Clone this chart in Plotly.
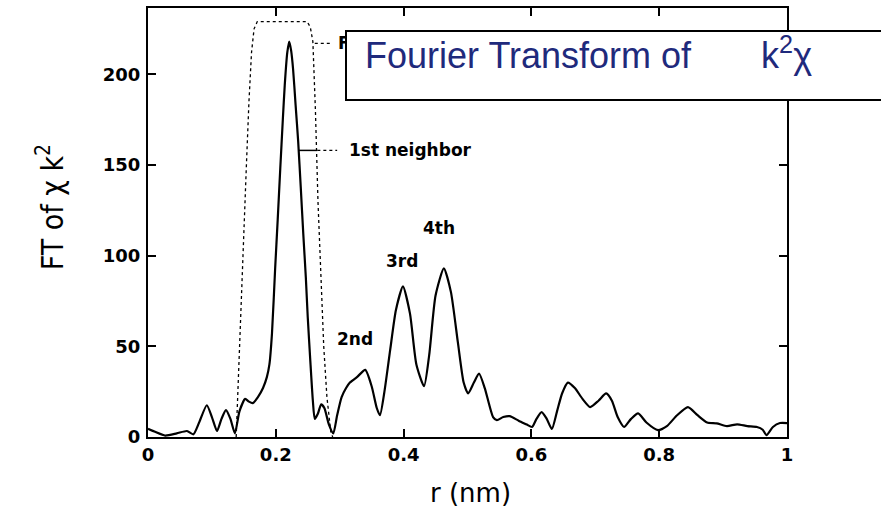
import plotly.graph_objects as go

# ---- data ----
r_nm = [0.000, 0.010, 0.027, 0.045, 0.061, 0.071, 0.080, 0.092, 0.100, 0.108,
        0.115, 0.122, 0.129, 0.136, 0.143, 0.152, 0.158, 0.164, 0.172, 0.180,
        0.186, 0.190, 0.194, 0.199, 0.203, 0.207, 0.211, 0.214, 0.218, 0.221,
        0.224, 0.227, 0.231, 0.235, 0.239, 0.243, 0.247, 0.250, 0.254, 0.258,
        0.261, 0.266, 0.271, 0.276, 0.283, 0.290, 0.296, 0.303, 0.310, 0.316,
        0.327, 0.340, 0.350, 0.358, 0.363, 0.370, 0.379, 0.388, 0.399, 0.410,
        0.420, 0.432, 0.440, 0.450, 0.463, 0.474, 0.485, 0.494, 0.501, 0.510,
        0.518, 0.527, 0.540, 0.546, 0.556, 0.566, 0.580, 0.592, 0.601, 0.608,
        0.616, 0.624, 0.632, 0.640, 0.648, 0.657, 0.668, 0.680, 0.692, 0.705,
        0.717, 0.726, 0.735, 0.745, 0.756, 0.767, 0.780, 0.798, 0.812, 0.828,
        0.845, 0.860, 0.875, 0.890, 0.906, 0.922, 0.938, 0.953, 0.962, 0.968,
        0.978, 0.989, 1.000]
ft_k2chi = [4.5, 3.0, 0.8, 2.0, 3.3, 1.5, 8, 17.5, 11, 3.3,
            10, 14.8, 10, 2.0, 14, 21, 19.5, 18.7, 22, 27,
            33, 40, 57, 93, 120, 148, 175, 194, 212, 218,
            213, 203, 183, 163, 138, 112, 88, 66, 42, 20,
            10, 13, 18, 16, 7, 2, 12, 22, 27, 30,
            33, 37, 28, 16, 12, 25, 48, 70, 83, 68,
            40, 28, 45, 78, 93, 80, 52, 30, 24, 30,
            35, 27, 11, 9.3, 11, 11.5, 9, 7, 5.5, 10,
            13.7, 10, 4.4, 14, 24, 30, 27, 21, 16.5, 20,
            24, 20, 11, 5.5, 10, 13, 8, 3.8, 6, 12,
            16.5, 12, 8, 7.5, 6, 7, 6, 5.5, 4, 1,
            5.5, 7.7, 7.7]

window_r = [0.138, 0.142, 0.146, 0.150, 0.154, 0.158, 0.162, 0.166, 0.171,
            0.249, 0.254, 0.258, 0.262, 0.266, 0.270, 0.275, 0.280, 0.286, 0.289]
window_val = [0, 40, 80, 115, 150, 185, 212, 225, 229,
              229, 226, 218, 180, 130, 90, 50, 22, 3, 0]

x_ticks = [0, 0.2, 0.4, 0.6, 0.8, 1]
x_ticklabels = ["0", "0.2", "0.4", "0.6", "0.8", "1"]
y_ticks = [0, 50, 100, 150, 200]
y_ticklabels = ["0", "50", "100", "150", "200"]

peak_labels = ["2nd", "3rd", "4th"]
peak_label_r = [0.324, 0.397, 0.455]
peak_label_y = [54, 97, 115]

neighbor_label = "1st neighbor"
neighbor_leader_r = [0.235, 0.265, 0.296]
neighbor_y = 158

window_label = "F"
window_leader_r = [0.261, 0.285]
window_label_y = 217

title_text = "Fourier Transform of" + "\u00a0" * 7 + "k<sup>2</sup>χ"

# ---- figure ----
fig = go.Figure()
fig.add_trace(go.Scatter(x=window_r, y=window_val, mode="lines",
                         line=dict(color="black", width=1.3, dash="dot"),
                         showlegend=False, hoverinfo="skip"))
fig.add_trace(go.Scatter(x=r_nm, y=ft_k2chi, mode="lines",
                         line=dict(color="black", width=2.2, shape="spline", smoothing=0.6),
                         showlegend=False))

shapes = [
    dict(type="line", xref="x", yref="y", x0=neighbor_leader_r[0], x1=neighbor_leader_r[1],
         y0=neighbor_y, y1=neighbor_y, line=dict(color="black", width=1.5)),
    dict(type="line", xref="x", yref="y", x0=neighbor_leader_r[1], x1=neighbor_leader_r[2],
         y0=neighbor_y, y1=neighbor_y, line=dict(color="black", width=1.2, dash="dot")),
    dict(type="line", xref="x", yref="y", x0=window_leader_r[0], x1=window_leader_r[1],
         y0=window_label_y, y1=window_label_y, line=dict(color="black", width=1.2, dash="dot")),
]

lab_font = dict(family="DejaVu Sans", size=17, color="black", weight="bold")
annotations = [
    dict(text=window_label, x=0.294, y=window_label_y, xref="x", yref="y",
         xanchor="left", yanchor="middle", showarrow=False, font=lab_font),
    dict(text=neighbor_label, x=0.311, y=neighbor_y, xref="x", yref="y",
         xanchor="left", yanchor="middle", showarrow=False, font=lab_font),
]
for t, xr, yv in zip(peak_labels, peak_label_r, peak_label_y):
    annotations.append(dict(text=t, x=xr, y=yv, xref="x", yref="y", xanchor="center",
                            yanchor="middle", showarrow=False, font=lab_font))
# title box (covers the window label partly, like the reference)
annotations.append(dict(text=" ", xref="paper", yref="paper", x=0.3083, y=0.949,
                        xanchor="left", yanchor="top", showarrow=False, width=560, height=67,
                        borderpad=0, borderwidth=2, bordercolor="black", bgcolor="white"))
annotations.append(dict(text=title_text, xref="paper", yref="paper", x=0.336, y=0.896,
                        xanchor="left", yanchor="middle", showarrow=False,
                        font=dict(family="Liberation Sans, Arial, sans-serif", size=36,
                                  color="#1f2a7c")))
# axis titles
annotations.append(dict(text="FT of χ k<sup>2</sup>", xref="paper", yref="paper",
                        x=-0.153, y=0.536, xanchor="center", yanchor="middle",
                        textangle=-90, showarrow=False,
                        font=dict(family="Liberation Sans Narrow, DejaVu Sans Condensed, sans-serif",
                                  size=30, color="black")))
annotations.append(dict(text="r (nm)", xref="paper", yref="paper", x=0.505, y=-0.131,
                        xanchor="center", yanchor="middle", showarrow=False,
                        font=dict(family="DejaVu Sans", size=26, color="black")))

tick_font = dict(family="DejaVu Sans", size=18, color="black", weight="bold")
fig.update_layout(
    width=881, height=507,
    margin=dict(l=148, r=94, t=6, b=70),
    paper_bgcolor="white", plot_bgcolor="white",
    shapes=shapes, annotations=annotations,
    xaxis=dict(range=[0, 1], tickvals=x_ticks, ticktext=x_ticklabels,
               ticks="inside", ticklen=8, tickwidth=1.5, tickcolor="black",
               showline=True, linecolor="black", linewidth=2, mirror="ticks",
               showgrid=False, zeroline=False, tickfont=tick_font, ticklabelstandoff=0),
    yaxis=dict(range=[0, 236.5], tickvals=y_ticks, ticktext=y_ticklabels,
               ticks="inside", ticklen=8, tickwidth=1.5, tickcolor="black",
               showline=True, linecolor="black", linewidth=2, mirror="ticks",
               showgrid=False, zeroline=False, tickfont=tick_font, ticklabelstandoff=2),
)

fig.write_html("out.html", config={"displayModeBar": False},
               post_script="document.body.style.margin='0';document.body.style.overflow='hidden';")
